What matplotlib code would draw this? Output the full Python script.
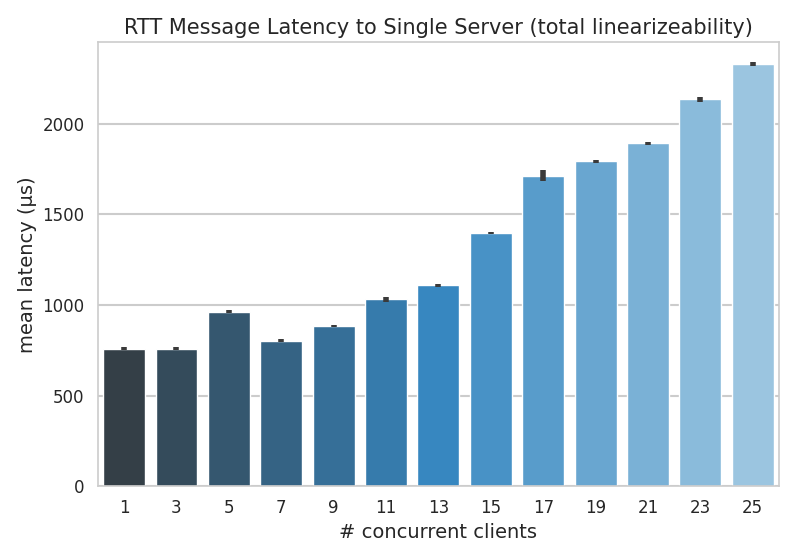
import matplotlib
matplotlib.use("Agg")
import matplotlib.pyplot as plt
import seaborn as sns

clients = [1, 3, 5, 7, 9, 11, 13, 15, 17, 19, 21, 23, 25]
latency = [760, 760, 963, 803, 884, 1032, 1110, 1398, 1715, 1793, 1893, 2135, 2330]
err = [7, 7, 7, 7, 7, 14, 8, 7, 28, 9, 8, 12, 9]

sns.set_theme(style="whitegrid")
plt.rcParams.update({"xtick.labelsize": 12, "ytick.labelsize": 12,
                     "axes.labelsize": 14, "axes.titlesize": 15,
                     "grid.linewidth": 1.5, "axes.linewidth": 1.2})
fig, ax = plt.subplots(figsize=(7.97, 5.6), dpi=100)

palette = sns.color_palette("Blues_d", len(clients))[::-1]
x = list(range(len(clients)))
ax.bar(x, latency, width=0.8, color=palette)
ax.errorbar(x, latency, yerr=err, fmt="none", ecolor="#3a3a3a", elinewidth=4, capsize=0)

ax.set_xticks(x)
ax.set_xticklabels([str(c) for c in clients])
ax.set_xlim(-0.5, len(clients) - 0.5)
ax.set_ylim(0, 2450)
ax.set_yticks([0, 500, 1000, 1500, 2000])
ax.grid(axis="x", visible=False)
ax.set_xlabel("# concurrent clients")
ax.set_ylabel("mean latency (µs)")
ax.set_title("RTT Message Latency to Single Server (total linearizeability)")
plt.tight_layout()
plt.savefig("out.png")
